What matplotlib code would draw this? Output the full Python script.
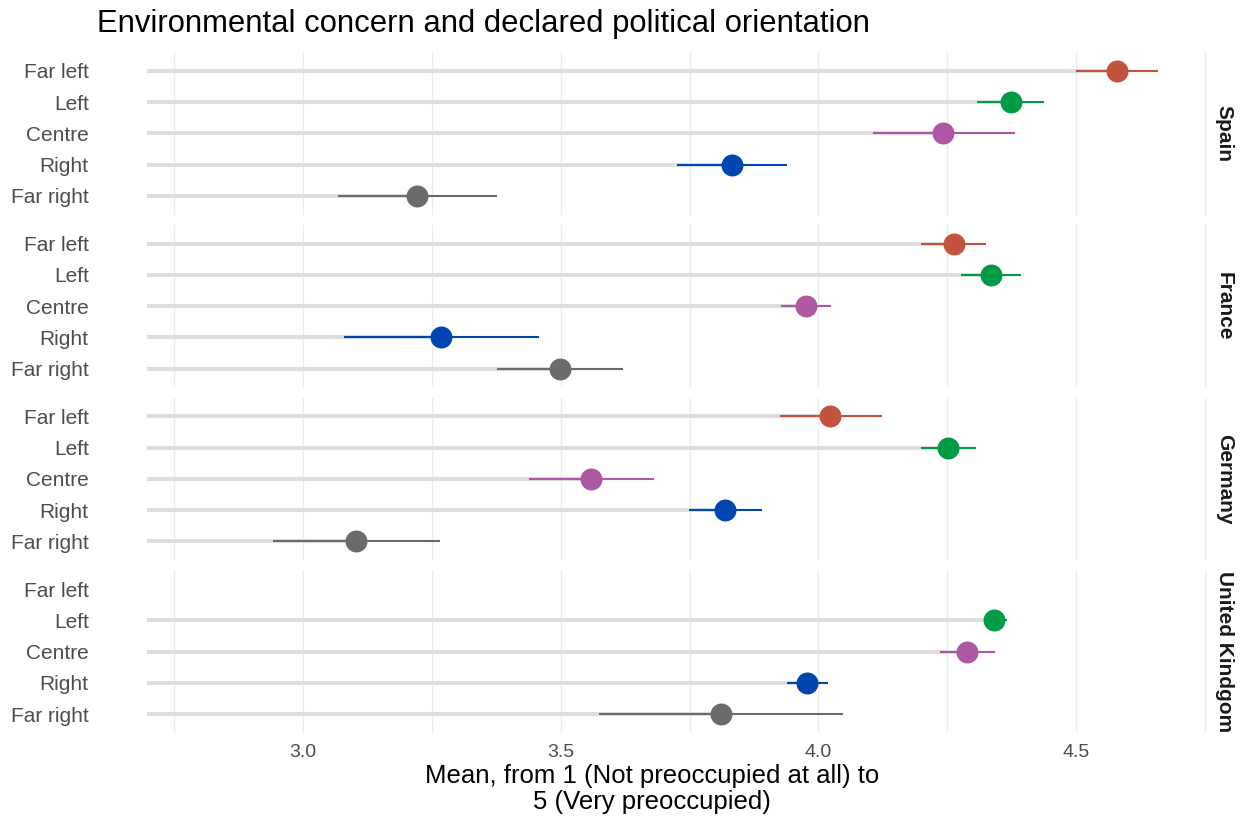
import numpy as np
import matplotlib.pyplot as plt

plt.rcParams['font.family'] = ['Liberation Sans', 'DejaVu Sans']

countries = ['Spain', 'France', 'Germany', 'United Kindgom']
orientations = ['Far left', 'Left', 'Centre', 'Right', 'Far right']
colors = ['#C2533F', '#009B45', '#AE58A4', '#0046B1', '#6B6B6B']

# mean and confidence interval per country, in orientation order (nan = no data)
spain_mean = [4.579, 4.373, 4.242, 3.832, 3.221]
spain_low = [4.500, 4.307, 4.106, 3.726, 3.068]
spain_high = [4.659, 4.437, 4.381, 3.939, 3.376]

france_mean = [4.263, 4.335, 3.976, 3.268, 3.499]
france_low = [4.199, 4.276, 3.927, 3.080, 3.376]
france_high = [4.325, 4.393, 4.024, 3.458, 3.621]

germany_mean = [4.022, 4.251, 3.559, 3.819, 3.103]
germany_low = [3.925, 4.199, 3.438, 3.749, 2.942]
germany_high = [4.123, 4.306, 3.681, 3.890, 3.266]

uk_mean = [np.nan, 4.340, 4.288, 3.978, 3.811]
uk_low = [np.nan, 4.323, 4.236, 3.939, 3.574]
uk_high = [np.nan, 4.366, 4.342, 4.018, 4.048]

means = [spain_mean, france_mean, germany_mean, uk_mean]
lows = [spain_low, france_low, germany_low, uk_low]
highs = [spain_high, france_high, germany_high, uk_high]

fig = plt.figure(figsize=(12.43, 8.18), dpi=100)
gs = fig.add_gridspec(4, 1, left=0.1183, right=0.9718, top=0.9364, bottom=0.1039,
                      hspace=0.062)

ypos = np.arange(len(orientations))[::-1]
for k, country in enumerate(countries):
    ax = fig.add_subplot(gs[k])
    m = np.array(means[k])
    lo = np.array(lows[k])
    hi = np.array(highs[k])
    ok = ~np.isnan(m)
    ax.hlines(ypos[ok], 0, m[ok], color='#DEDEDE', lw=3.0, zorder=1)
    for i in np.where(ok)[0]:
        ax.hlines(ypos[i], lo[i], hi[i], color=colors[i], lw=1.5, zorder=2)
        ax.scatter(m[i], ypos[i], s=250, color=colors[i], zorder=3, linewidths=0)
    ax.set_xlim(2.697, 4.756)
    ax.set_ylim(-0.6, 4.6)
    ax.set_yticks(ypos)
    ax.set_yticklabels(orientations)
    ax.set_xticks([3.0, 3.5, 4.0, 4.5])
    ax.set_xticks([2.75, 3.25, 3.75, 4.25, 4.75], minor=True)
    ax.grid(axis='x', which='both', color='#EBEBEB', lw=1.0, zorder=0)
    ax.set_axisbelow(True)
    for s in ax.spines.values():
        s.set_visible(False)
    ax.tick_params(axis='both', which='both', length=0)
    ax.tick_params(axis='y', labelsize=15, labelcolor='#4D4D4D', pad=42)
    ax.tick_params(axis='x', labelsize=14, labelcolor='#4D4D4D', pad=8)
    if k < 3:
        ax.tick_params(axis='x', labelbottom=False)
    strip = ax.text(1.0155, 0.5, country, transform=ax.transAxes, rotation=-90,
                    ha='center', va='center', fontsize=15, fontweight='bold',
                    color='#1A1A1A')
    strip.set_clip_on(False)

fig.text(97 / 1243, 1 - 24 / 818, 'Environmental concern and declared political orientation',
         ha='left', va='center', fontsize=22.3, color='black')
fig.text(652 / 1243, 1 - 789 / 818,
         'Mean, from 1 (Not preoccupied at all) to\n5 (Very preoccupied)',
         ha='center', va='center', fontsize=18.5, color='black', linespacing=1.12)

fig.savefig('out.png', dpi=100)
